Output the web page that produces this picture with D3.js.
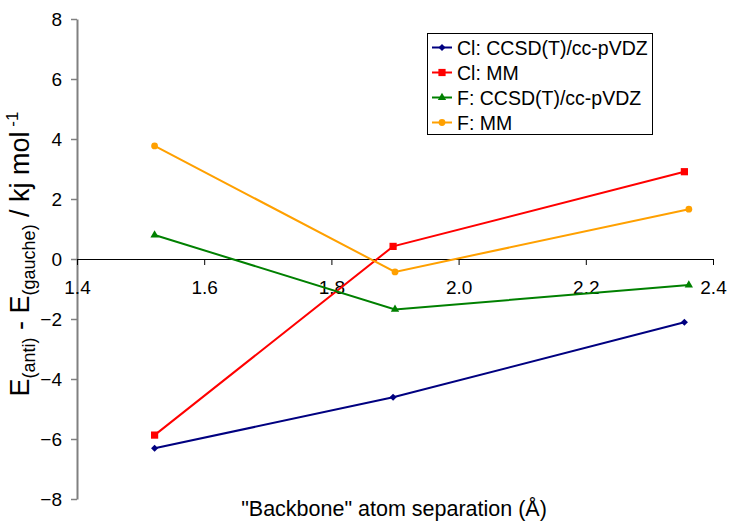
<!DOCTYPE html>
<html>
<head>
<meta charset="utf-8">
<script src="https://cdn.jsdelivr.net/npm/d3@7"></script>
<style>
  html, body { margin: 0; padding: 0; background: #fff; }
  svg { display: block; font-family: "Liberation Sans", Arial, sans-serif; }
</style>
</head>
<body>
<svg id="chart" width="730" height="523"></svg>
<script>
// Backbone atom separations (Å) for each halogen family
const clSeparation = [1.522, 1.897, 2.355];
const fSeparation  = [1.522, 1.900, 2.362];

// E(anti) - E(gauche), kJ/mol
const clCCSD = [-6.31, -4.61, -2.11];
const clMM   = [-5.87, 0.42, 2.91];
const fCCSD  = [0.80, -1.68, -0.87];
const fMM    = [3.77, -0.43, 1.66];

const seriesNames = ["Cl: CCSD(T)/cc-pVDZ", "Cl: MM", "F: CCSD(T)/cc-pVDZ", "F: MM"];
const xTicks = [1.4, 1.6, 1.8, 2.0, 2.2, 2.4];
const yTicks = [-8, -6, -4, -2, 0, 2, 4, 6, 8];

const series = [
  { name: seriesNames[0], xs: clSeparation, ys: clCCSD, color: "#000080", symbol: d3.symbolDiamond2, size: 32 },
  { name: seriesNames[1], xs: clSeparation, ys: clMM,   color: "#FF0000", symbol: d3.symbolSquare,   size: 52 },
  { name: seriesNames[2], xs: fSeparation,  ys: fCCSD,  color: "#008000", symbol: d3.symbolTriangle, size: 30 },
  { name: seriesNames[3], xs: fSeparation,  ys: fMM,    color: "#FFA000", symbol: d3.symbolCircle,   size: 36 }
];

const svg = d3.select("#chart");

const x = d3.scaleLinear().domain([1.4, 2.4]).range([77, 713]);
const y = d3.scaleLinear().domain([-8, 8]).range([499, 19]);

// Vertical axis
const yAxis = svg.append("g")
  .attr("transform", `translate(${x(1.4)},0)`)
  .call(d3.axisLeft(y).tickValues(yTicks).tickSize(6).tickSizeOuter(0).tickPadding(9)
    .tickFormat(d3.format("d")));
yAxis.select(".domain").attr("stroke", "#808080").attr("stroke-width", 2);
yAxis.selectAll(".tick line").attr("stroke", "#808080").attr("stroke-width", 1.5);
yAxis.selectAll(".tick text").attr("font-size", 19).attr("fill", "#000")
  .attr("font-family", "Liberation Sans, Arial, sans-serif");

// Horizontal axis through zero
const xAxis = svg.append("g")
  .attr("transform", `translate(0,${y(0)})`)
  .call(d3.axisBottom(x).tickValues(xTicks).tickSize(6).tickSizeOuter(0).tickPadding(16)
    .tickFormat(d3.format(".1f")));
xAxis.select(".domain").attr("stroke", "#000").attr("stroke-width", 1.2);
xAxis.selectAll(".tick line").attr("stroke", "#000").attr("stroke-width", 1);
xAxis.selectAll(".tick text").attr("font-size", 19).attr("fill", "#000")
  .attr("font-family", "Liberation Sans, Arial, sans-serif");

// Series lines and markers
const line = d3.line().x(d => x(d[0])).y(d => y(d[1]));
series.forEach(s => {
  const pts = s.xs.map((v, i) => [v, s.ys[i]]);
  svg.append("path")
    .datum(pts)
    .attr("d", line)
    .attr("fill", "none")
    .attr("stroke", s.color)
    .attr("stroke-width", 2);
  svg.append("g").selectAll("path")
    .data(pts)
    .join("path")
    .attr("transform", d => `translate(${x(d[0])},${y(d[1])})`)
    .attr("d", d3.symbol().type(s.symbol).size(s.size))
    .attr("fill", s.color);
});

// Axis titles
svg.append("text")
  .attr("x", 394).attr("y", 516)
  .attr("text-anchor", "middle")
  .attr("font-size", 21.5)
  .text("\"Backbone\" atom separation (Å)");

const yTitle = svg.append("text")
  .attr("transform", "translate(28.5,254) rotate(-90)")
  .attr("text-anchor", "middle")
  .attr("font-size", 27);
yTitle.append("tspan").text("E");
yTitle.append("tspan").attr("font-size", 18).attr("dy", 6).text("(anti)");
yTitle.append("tspan").attr("dy", -6).text(" - E");
yTitle.append("tspan").attr("font-size", 18).attr("dy", 6).text("(gauche)");
yTitle.append("tspan").attr("dy", -6).text(" / kj mol");
yTitle.append("tspan").attr("font-size", 17).attr("dy", -11).text(" -1");

// Legend
const legend = svg.append("g");
legend.append("rect")
  .attr("x", 427.5).attr("y", 33.5)
  .attr("width", 225).attr("height", 101)
  .attr("fill", "#fff").attr("stroke", "#000").attr("stroke-width", 1);
series.forEach((s, i) => {
  const cy = 47.5 + i * 25;
  legend.append("line")
    .attr("x1", 432).attr("x2", 452).attr("y1", cy).attr("y2", cy)
    .attr("stroke", s.color).attr("stroke-width", 2);
  legend.append("path")
    .attr("transform", `translate(442,${cy})`)
    .attr("d", d3.symbol().type(s.symbol).size(s.size))
    .attr("fill", s.color);
  legend.append("text")
    .attr("x", 457).attr("y", cy).attr("dy", "0.36em")
    .attr("font-size", 19.5)
    .text(s.name);
});
</script>
</body>
</html>
